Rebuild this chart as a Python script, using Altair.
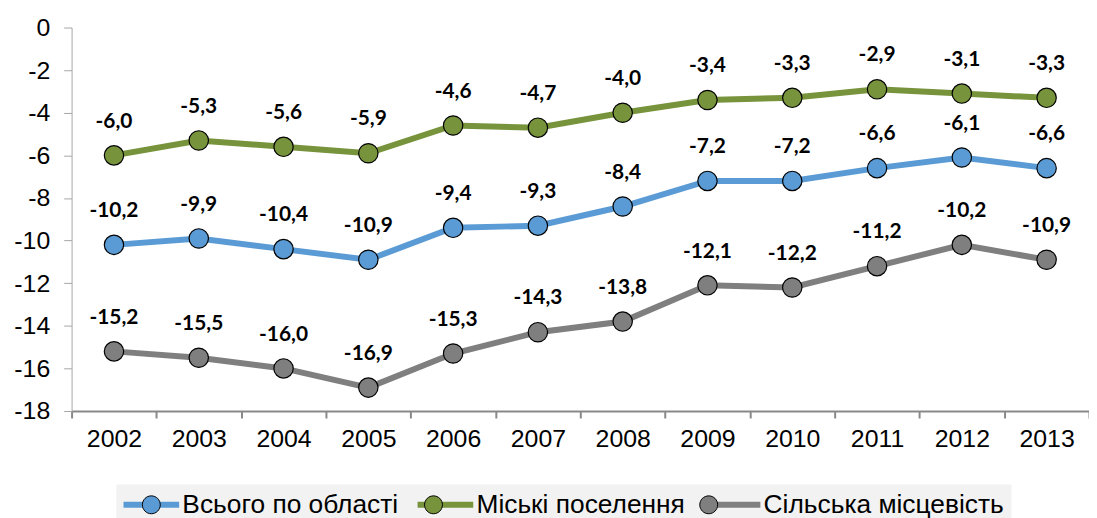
import altair as alt
import pandas as pd

years = [str(y) for y in range(2002, 2014)]
series_names = ["Всього по області", "Міські поселення", "Сільська місцевість"]
total = [-10.2, -9.9, -10.4, -10.9, -9.4, -9.3, -8.4, -7.2, -7.2, -6.6, -6.1, -6.6]
urban = [-6.0, -5.3, -5.6, -5.9, -4.6, -4.7, -4.0, -3.4, -3.3, -2.9, -3.1, -3.3]
rural = [-15.2, -15.5, -16.0, -16.9, -15.3, -14.3, -13.8, -12.1, -12.2, -11.2, -10.2, -10.9]
colors = ["#5B9BD5", "#77933C", "#7F7F7F"]
y_ticks = list(range(-18, 1, 2))

rows = []
for name, vals in zip(series_names, [total, urban, rural]):
    for yr, v in zip(years, vals):
        rows.append({"year": yr, "series": name, "value": v,
                     "label": f"{v:.1f}".replace(".", ",")})
df = pd.DataFrame(rows)

x = alt.X("year:N", sort=years,
          scale=alt.Scale(type="band", paddingInner=0, paddingOuter=0),
          axis=alt.Axis(title=None, labelAngle=0, labelFont="Liberation Sans",
                        labelFontSize=25, labelColor="#000000", labelPadding=9,
                        domainColor="#898989", domainWidth=2, tickColor="#898989",
                        tickWidth=2, tickSize=7, tickBand="extent", grid=False))
y = alt.Y("value:Q",
          scale=alt.Scale(domain=[-18, 0], nice=False, zero=False),
          axis=alt.Axis(title=None, values=y_ticks, labelExpr="'' + datum.value",
                        labelFont="Liberation Sans", labelFontSize=25,
                        labelColor="#000000", labelPadding=14,
                        domainColor="#A6A6A6", domainWidth=1, tickColor="#A6A6A6",
                        tickSize=8, grid=False))

legend_common = dict(orient="none", legendX=45, legendY=460, direction="horizontal",
                     title=None, labelFont="Liberation Sans", labelFontSize=26.5,
                     labelColor="#000000", labelLimit=500, columnPadding=7,
                     labelOffset=33, padding=7)

lines = alt.Chart(df).mark_line(strokeWidth=6).encode(
    x=x, y=y,
    color=alt.Color("series:N", sort=series_names,
                    scale=alt.Scale(domain=series_names, range=colors),
                    legend=alt.Legend(symbolType="M-1.3,0H4.3", symbolStrokeWidth=6,
                                      symbolSize=400,
                                      fillColor="#F2F2F2", **legend_common)),
)

points = alt.Chart(df).mark_point(filled=True, size=380, stroke="black",
                                  strokeWidth=1.2, opacity=1).encode(
    x=x, y=y,
    fill=alt.Fill("series:N", sort=series_names,
                  scale=alt.Scale(domain=series_names, range=colors),
                  legend=alt.Legend(symbolType="M1.92,0A0.72,0.72,0,1,1,0.48,0A0.72,0.72,0,1,1,1.92,0",
                                    symbolSize=625,
                                    symbolStrokeColor="black", symbolStrokeWidth=1,
                                    symbolOpacity=1, labelOpacity=0,
                                    **legend_common)),
)

labels = alt.Chart(df).mark_text(font="Lato", fontWeight="bold", fontSize=21,
                                 dy=-34, color="#000000").encode(
    x=x, y=y, text="label:N")

chart = alt.layer(lines, points, labels).resolve_scale(
    color="independent", fill="independent"
).properties(
    width=1024, height=386,
    autosize=alt.AutoSizeParams(type="none"),
    padding={"left": 64, "top": 18, "right": 0, "bottom": 106},
).configure_view(stroke=None)

chart.save("out.html", embed_options={"renderer": "svg", "actions": False})
